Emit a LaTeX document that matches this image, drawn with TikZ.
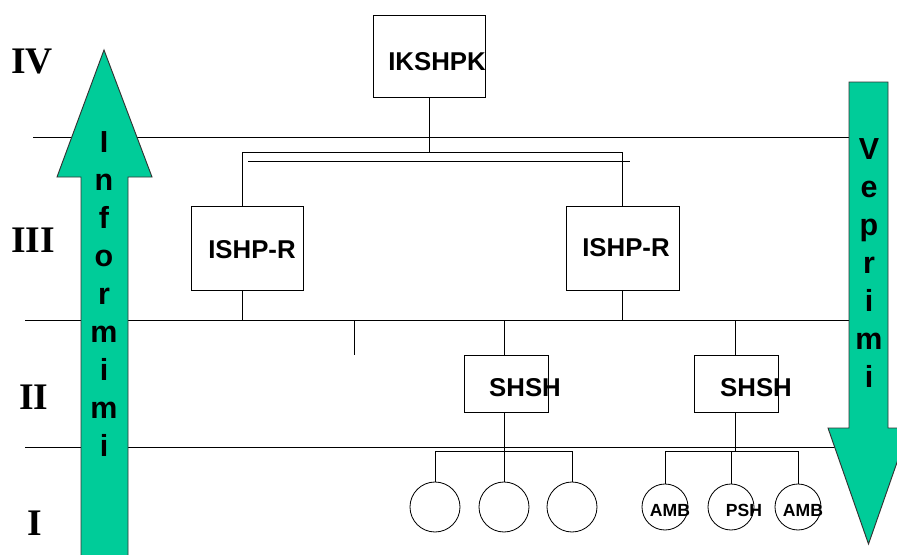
\documentclass[tikz,border=0pt]{standalone}
\usepackage{fontspec}
\setmainfont{Liberation Sans}
\newfontfamily\levelfont{Liberation Serif}
\definecolor{arrowgreen}{HTML}{00CC99}

\begin{document}
\begin{tikzpicture}[x=0.03cm, y=-0.03cm, line width=0.7pt,
    box/.style={draw, rectangle, inner sep=0pt},
    leaf/.style={draw, circle, inner sep=0pt},
    word/.style={inner sep=0pt, font=\bfseries\fontsize{22}{26}\selectfont},
    tag/.style={inner sep=0pt, font=\bfseries\fontsize{15}{18}\selectfont},
    letter/.style={anchor=base, inner sep=0pt, font=\bfseries\fontsize{26}{30}\selectfont},
    level/.style={inner sep=0pt, font=\levelfont\bfseries\fontsize{32}{36}\selectfont},
    bigarrow/.style={draw=black!80, fill=arrowgreen, line width=0.8pt, line join=miter}]

    \useasboundingbox (0,0) rectangle (897,554);

    % Level borders
    \coordinate (l4) at (33,137);
    \coordinate (l3) at (25,320);
    \coordinate (l2) at (25,447);
    \foreach \l in {l4,l3,l2} {
        \draw[line width=0.6pt] (\l) -- (\l -| 850,0);
    }

    % Level numbers
    \node[level] (n4) at (32,62) {IV};
    \node[level] (n3) at (33,240) {III};
    \node[level] (n2) at (34,397) {II};
    \node[level] (n1) at (35,523) {I};

    % Upward arrow
    \draw[bigarrow] (81,560) -- (81,177) -- (57,177) -- (104,50) -- (152,177)
        -- (128,177) -- (128,560) -- cycle;
    \foreach \c [count=\k] in {I,n,f,o,r,m,i,m,i} {
        \node[letter] (inf\k) at (104,152+38*\k-38) {\c};
    }

    % Downward arrow
    \draw[bigarrow] (849,82) -- (888,82) -- (888,428) -- (909,428) -- (868.5,544)
        -- (828,428) -- (849,428) -- cycle;
    \foreach \c [count=\k] in {V,e,p,r,i,m,i} {
        \node[letter] (vep\k) at (869,159+38*\k-38) {\c};
    }

    % Level IV
    \node[box, minimum width=3.36cm, minimum height=2.46cm] (ikshpk) at (429,56) {};
    \node[word] (ikshpk-t) at (437,62) {IKSHPK};

    % Level III
    \node[box, minimum width=3.36cm, minimum height=2.52cm] (ishpl) at (247,248) {};
    \node[word] (ishpl-t) at (252,250) {ISHP-R};
    \node[box, minimum width=3.39cm, minimum height=2.52cm] (ishpr) at (622.5,248) {};
    \node[word] (ishpr-t) at (626,248) {ISHP-R};

    \coordinate (fl) at (242,152);
    \coordinate (fm) at (429,152);
    \coordinate (fr) at (622,152);
    \draw (ikshpk.south) -- (fm);
    \draw (fl |- ishpl.north) -- (fl) -- (fr) -- (fr |- ishpr.north);
    \coordinate (dl) at (248,161);
    \coordinate (dr) at (630,161);
    \draw (dl) -- (dr);

    % Level II
    \node[box, minimum width=2.52cm, minimum height=1.71cm] (shshl) at (506,383.5) {};
    \node[word] (shshl-t) at (525,388) {SHSH};
    \node[box, minimum width=2.52cm, minimum height=1.71cm] (shshr) at (736,383.5) {};
    \node[word] (shshr-t) at (756,388) {SHSH};

    \draw (fl |- ishpl.south) -- (fl |- l3);
    \draw (fr |- ishpr.south) -- (fr |- l3);
    \coordinate (stub) at (354,355);
    \draw (stub |- l3) -- (stub);
    \draw (504,320) -- (504,355);
    \draw (735,320) -- (735,355);

    % Level I
    \foreach \x [count=\k] in {435,504,572} {
        \node[leaf, minimum size=1.5cm] (a\k) at (\x,507) {};
    }
    \foreach \x [count=\k] in {665,731,798} {
        \node[leaf, minimum size=1.38cm] (b\k) at (\x,507) {};
    }
    \node[tag] (b1-t) at (670,510) {AMB};
    \node[tag] (b2-t) at (744,510) {PSH};
    \node[tag] (b3-t) at (803,510) {AMB};

    \draw (a2.north |- shshl.south) -- (a2.north);
    \draw (a1.north) -- ++(0,-30) -| (a3.north);
    \draw (735,412) -- (735,452);
    \draw (b1.north) -- ++(0,-32) -| (b3.north);
    \draw (b2.north) -- ++(0,-32);

\end{tikzpicture}
\end{document}
